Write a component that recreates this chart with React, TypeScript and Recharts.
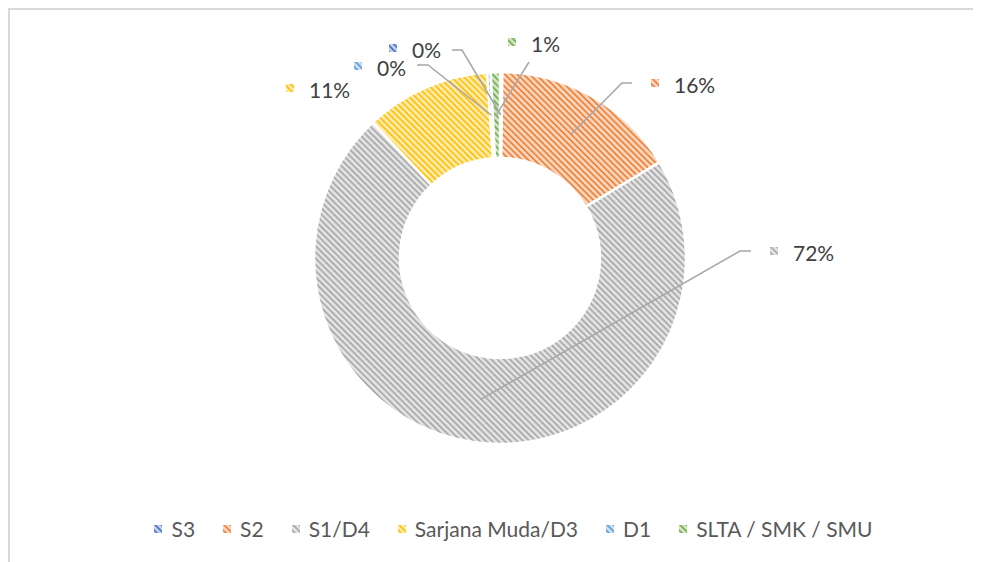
import React from "react";
import { PieChart, Pie, Cell, Legend } from "recharts";

const categories = ["S3", "S2", "S1/D4", "Sarjana Muda/D3", "D1", "SLTA / SMK / SMU"];
const shares = [0.2, 16.2, 71.6, 10.9, 0.3, 0.8];
const colors = ["#4472C4", "#ED7D31", "#A5A5A5", "#FFC000", "#5B9BD5", "#70AD47"];

const data = categories.map((name, i) => ({ name, value: shares[i] }));

// where each label sits: marker offset from the pie centre,
// leader points are relative to the marker (ring midpoint is added last)
const labelLayout = [
  { dx: -107, dy: -210, leader: [[59, 2], [69, 2]] },
  { dx: 155, dy: -175, leader: [[-23, 0], [-33, 0]] },
  { dx: 274, dy: -7, leader: [[-23, 0], [-34, 0]] },
  { dx: -210, dy: -170, leader: [] },
  { dx: -142, dy: -192, leader: [[59, -1], [70, -1]] },
  { dx: 12, dy: -216, leader: [[17, 20]] },
];

const RAD = Math.PI / 180;
const FONT = "Lato, 'Liberation Sans', sans-serif";

function renderLabel(props: any) {
  const { cx, cy, midAngle, innerRadius, outerRadius, percent, index } = props;
  const lay = labelLayout[index];
  if (!lay) return null;
  const mx = cx + lay.dx;
  const my = cy + lay.dy;
  const r = (innerRadius + outerRadius) / 2;
  const px = cx + r * Math.cos(-midAngle * RAD);
  const py = cy + r * Math.sin(-midAngle * RAD);
  const pts = lay.leader.map(([x, y]) => `${mx + x},${my + y}`);
  if (pts.length) pts.push(`${px},${py}`);
  return (
    <g key={`lbl-${index}`}>
      {pts.length > 0 && (
        <polyline points={pts.join(" ")} fill="none" stroke="#A6A6A6" strokeWidth={1.5} />
      )}
      <rect x={mx - 4} y={my - 4} width={8} height={8} fill={`url(#hatch-${index})`} />
      <text
        x={mx + 19}
        y={my + 1}
        dominantBaseline="central"
        fontSize={21}
        fill="#404040"
        fontFamily={FONT}
      >
        {`${Math.round(percent * 100)}%`}
      </text>
    </g>
  );
}

function renderLegend() {
  return (
    <div
      style={{
        display: "flex",
        justifyContent: "center",
        alignItems: "center",
        paddingLeft: 36,
        fontFamily: FONT,
        fontSize: 21,
        color: "#595959",
        lineHeight: "28px",
      }}
    >
      {categories.map((name, i) => (
        <div key={name} style={{ display: "flex", alignItems: "center", marginRight: i < categories.length - 1 ? 28 : 0 }}>
          <svg width={8} height={8} style={{ marginRight: 9 }}>
            <rect width={8} height={8} fill={`url(#hatch-${i})`} />
          </svg>
          <span>{name}</span>
        </div>
      ))}
    </div>
  );
}

export default function App() {
  return (
    <div
      style={{
        width: 971,
        height: 552,
        borderLeft: "2px solid #d9d9d9",
        borderTop: "2px solid #d9d9d9",
        background: "#fff",
        position: "relative",
      }}
    >
      <svg width={0} height={0} style={{ position: "absolute" }}>
        <defs>
          {colors.map((c, i) => (
            <pattern
              key={c}
              id={`hatch-${i}`}
              patternUnits="userSpaceOnUse"
              width={4.4}
              height={4.4}
              patternTransform="rotate(-45)"
            >
              <rect width={4.4} height={4.4} fill="#fff" />
              <rect width={4.4} height={4.4} fill={c} fillOpacity={0.32} />
              <rect width={1.7} height={4.4} fill={c} fillOpacity={0.95} />
            </pattern>
          ))}
        </defs>
      </svg>
      <PieChart width={971} height={552} margin={{ top: 0, right: 0, bottom: 0, left: 0 }}>
        <Pie
          data={data}
          dataKey="value"
          nameKey="name"
          cx={490}
          cy={248}
          innerRadius={100}
          outerRadius={186}
          startAngle={90}
          endAngle={-270}
          stroke="#fff"
          strokeWidth={2.5}
          label={renderLabel}
          labelLine={false}
          isAnimationActive={false}
        >
          {data.map((d, i) => (
            <Cell key={d.name} fill={`url(#hatch-${i})`} />
          ))}
        </Pie>
        <Legend content={renderLegend} wrapperStyle={{ top: 505, left: 0, width: 971 }} />
      </PieChart>
    </div>
  );
}
